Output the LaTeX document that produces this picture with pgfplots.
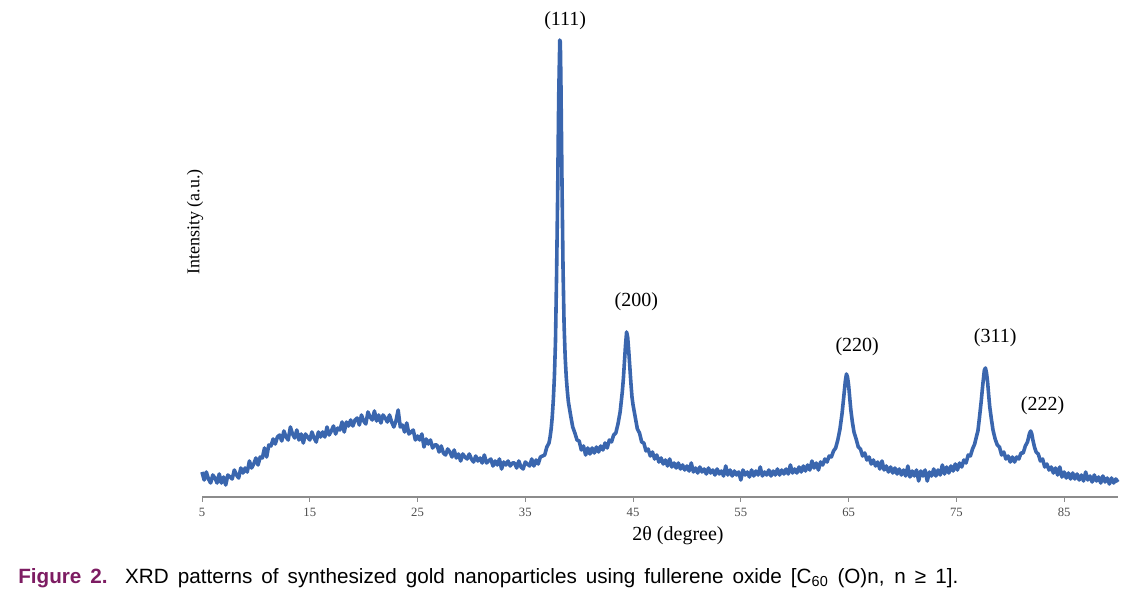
\documentclass[border=0pt]{standalone}
\usepackage{pgfplots}
\pgfplotsset{compat=1.18}
\usepackage{fontspec}
\setmainfont{Liberation Serif}
\newfontfamily\capfont{Liberation Sans}
\definecolor{xrd}{RGB}{58,102,174}
\definecolor{figpurple}{RGB}{125,28,98}
\definecolor{axgray}{RGB}{140,140,140}

\pgfplotstableread{
x y
5.0 25
5.2 17
5.4 25
5.6 18
5.8 14
6.0 22
6.2 19
6.4 14
6.6 23
6.8 14
7.0 20
7.2 12
7.4 22
7.6 20
7.8 18
8.0 27
8.2 22
8.4 19
8.6 29
8.8 24
9.0 29
9.2 25
9.4 36
9.6 29
9.8 33
10.0 39
10.2 32
10.4 40
10.6 39
10.8 49
11.0 40
11.2 52
11.4 51
11.6 58
11.8 53
12.0 60
12.2 62
12.4 56
12.6 66
12.8 60
13.0 57
13.2 70
13.4 63
13.6 59
13.8 67
14.0 57
14.2 63
14.4 54
14.6 63
14.8 60
15.0 57
15.2 65
15.4 59
15.6 55
15.8 65
16.0 60
16.2 65
16.4 60
16.6 70
16.8 62
17.0 66
17.2 71
17.4 63
17.6 69
17.8 67
18.0 75
18.2 65
18.4 75
18.6 71
18.8 77
19.0 71
19.2 77
19.4 79
19.6 72
19.8 82
20.0 76
20.2 73
20.4 85
20.6 80
20.8 77
21.0 86
21.2 76
21.4 82
21.6 74
21.8 82
22.0 79
22.2 75
22.4 82
22.6 75
22.8 70
23.0 76
23.2 87
23.4 70
23.6 72
23.8 65
24.0 74
24.2 63
24.4 65
24.6 67
24.8 57
25.0 61
25.2 57
25.4 63
25.6 50
25.8 58
26.0 53
26.2 57
26.4 49
26.6 52
26.8 52
27.0 45
27.2 51
27.4 44
27.6 42
27.8 48
28.0 45
28.2 40
28.4 47
28.6 39
28.8 43
29.0 36
29.2 43
29.4 40
29.6 38
29.8 43
30.0 38
30.2 35
30.4 41
30.6 36
30.8 39
31.0 34
31.2 42
31.4 34
31.6 36
31.8 38
32.0 31
32.2 36
32.4 32
32.6 38
32.8 28
33.0 35
33.2 32
33.4 36
33.6 31
33.8 34
34.0 34
34.2 29
34.4 36
34.6 30
34.8 28
35.0 35
35.2 33
35.4 31
35.6 38
35.8 31
36.0 37
36.2 33
36.4 40
36.6 41
36.8 42
37.0 50
37.2 54
37.3 60
37.4 68
37.5 80
37.6 97
37.7 120
37.8 155
37.9 220
38.0 300
38.1 400
38.2 457
38.25 455
38.3 420
38.4 320
38.5 230
38.6 172
38.7 140
38.8 120
38.9 106
39.0 95
39.2 82
39.4 70
39.6 64
39.8 57
40.0 56
40.2 47
40.4 51
40.6 42
40.8 49
41.0 43
41.2 49
41.4 44
41.6 50
41.8 45
42.0 51
42.2 47
42.4 54
42.6 49
42.8 57
43.0 55
43.2 62
43.4 64
43.6 73
43.8 85
44.0 105
44.1 118
44.2 135
44.3 152
44.4 165
44.5 160
44.6 146
44.7 130
44.8 114
44.9 100
45.0 92
45.2 80
45.4 68
45.6 64
45.8 55
46.0 54
46.2 46
46.4 48
46.6 41
46.8 45
47.0 38
47.2 42
47.4 35
47.6 39
47.8 33
48.0 37
48.2 31
48.4 38
48.6 30
48.8 34
49.0 29
49.2 34
49.4 28
49.6 32
49.8 27
50.0 31
50.2 26
50.4 34
50.6 25
50.8 29
51.0 24
51.2 30
51.4 25
51.6 28
51.8 23
52.0 29
52.2 24
52.4 27
52.6 22
52.8 28
53.0 23
53.2 26
53.4 21
53.6 31
53.8 22
54.0 27
54.2 21
54.4 26
54.6 22
54.8 25
55.0 17
55.2 27
55.4 22
55.6 25
55.8 20
56.0 27
56.2 21
56.4 26
56.6 22
56.8 30
57.0 21
57.2 25
57.4 22
57.6 27
57.8 21
58.0 26
58.2 22
58.4 28
58.6 22
58.8 27
59.0 23
59.2 28
59.4 23
59.6 32
59.8 24
60.0 28
60.2 24
60.4 30
60.6 25
60.8 31
61.0 26
61.2 32
61.4 27
61.6 36
61.8 29
62.0 34
62.2 27
62.4 35
62.6 32
62.8 38
63.0 35
63.2 41
63.4 40
63.6 46
63.8 49
64.0 57
64.2 68
64.4 84
64.55 100
64.7 116
64.8 123
64.9 120
65.0 112
65.1 100
65.2 88
65.35 75
65.5 65
65.7 58
65.9 50
66.1 48
66.3 41
66.5 44
66.7 37
66.9 40
67.1 33
67.3 37
67.5 31
67.7 35
67.9 28
68.1 36
68.3 27
68.5 31
68.7 25
68.9 30
69.1 24
69.3 29
69.5 23
69.7 28
69.9 22
70.1 27
70.3 21
70.5 31
70.7 20
70.9 26
71.1 21
71.3 27
71.5 16
71.7 26
71.9 21
72.1 27
72.3 16
72.5 25
72.7 21
72.9 28
73.1 21
73.3 27
73.5 22
73.7 32
73.9 23
74.1 30
74.3 24
74.5 31
74.7 26
74.9 33
75.1 27
75.3 34
75.5 30
75.7 37
75.9 34
76.1 42
76.3 41
76.5 48
76.7 53
76.9 62
77.0 66
77.15 80
77.3 95
77.45 112
77.6 127
77.7 129
77.8 124
77.9 115
78.0 102
78.1 90
78.25 78
78.4 67
78.6 58
78.8 52
79.0 50
79.2 42
79.4 45
79.6 38
79.8 41
80.0 35
80.2 40
80.4 35
80.6 40
80.8 38
81.0 44
81.2 44
81.4 51
81.6 55
81.8 64
81.9 66
82.0 63
82.1 57
82.25 50
82.4 45
82.6 43
82.8 36
83.0 38
83.2 30
83.4 33
83.6 27
83.8 30
84.0 24
84.2 29
84.4 22
84.6 30
84.8 20
85.0 25
85.2 19
85.4 24
85.6 18
85.8 24
86.0 18
86.2 23
86.4 17
86.6 22
86.8 16
87.0 25
87.2 17
87.4 21
87.6 15
87.8 22
88.0 16
88.2 20
88.4 14
88.6 21
88.8 15
89.0 19
89.2 13
89.4 19
89.6 14
89.8 18
90.0 15
}\xrddata

\begin{document}
\begin{tikzpicture}[x=1pt,y=1pt]
\path[use as bounding box] (0,0) rectangle (846,450);
\begin{axis}[
  at={(151.5pt,77.25pt)}, anchor=south west,
  scale only axis, width=687pt, height=372.75pt,
  xmin=5, xmax=90, ymin=0, ymax=497,
  axis y line=none, axis x line*=bottom,
  axis line style={axgray, line width=0.8pt},
  xtick={5,15,25,35,45,55,65,75,85},
  tick align=outside, major tick length=3.5pt,
  tick style={axgray, line width=0.6pt},
  /pgf/number format/assume math mode=true,
  x tick label style={font=\fontsize{9.5}{10}\selectfont, text=black!70, yshift=-1pt},
  clip=false,
]
\addplot[xrd, line width=2.7pt, line join=round] table[x=x,y=y] {\xrddata};
\node[font=\fontsize{15}{16}\selectfont] at (axis cs:38.7,476) {(111)};
\node[font=\fontsize{15}{16}\selectfont] at (axis cs:45.3,195) {(200)};
\node[font=\fontsize{15}{16}\selectfont] at (axis cs:65.8,150) {(220)};
\node[font=\fontsize{15}{16}\selectfont] at (axis cs:78.6,159) {(311)};
\node[font=\fontsize{15}{16}\selectfont] at (axis cs:83.0,91) {(222)};
\end{axis}
\node[font=\fontsize{15}{16}\selectfont] at (508.5,48.5) {2θ (degree)};
\node[font=\fontsize{13.5}{14}\selectfont, rotate=90] at (146.25,283.5) {Intensity (a.u.)};
\node[anchor=base west, inner sep=0pt] at (13.5,12.75) {\capfont\fontsize{15.5}{18}\selectfont\hbox to 705pt{\textcolor{figpurple}{\bfseries Figure 2.} XRD patterns of synthesized gold nanoparticles using fullerene oxide [C\textsubscript{60} (O)n, n ≥ 1].}};
\end{tikzpicture}
\end{document}
